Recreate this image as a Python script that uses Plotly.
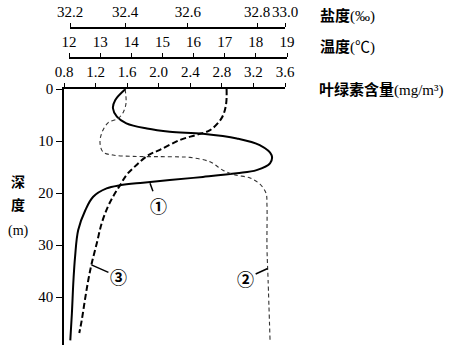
import numpy as np
import plotly.graph_objects as go

W, H = 451, 345

# curve ① chlorophyll (mg/m3) vs depth (m)
chl_depth = [0, 2.1, 3.7, 5.3, 6.6, 7.6, 8.2, 8.6, 9.5, 10.8, 12.7, 14.3, 15.6, 16.2,
             16.9, 17.5, 18.0, 18.5, 19.1, 20.7, 23.3, 27.1, 32.3, 36.7, 43.1, 48.3]
chl = [1.58, 1.45, 1.42, 1.47, 1.59, 1.85, 2.14, 2.56, 2.99, 3.28, 3.43, 3.41, 3.24, 2.99,
       2.56, 2.14, 1.80, 1.51, 1.34, 1.17, 1.07, 0.98, 0.94, 0.92, 0.90, 0.88]

# curve ③ temperature (C) vs depth
temp_depth = [0, 3.1, 5.6, 7.9, 8.8, 9.8, 11.7, 12.7, 14.6, 16.5, 18.5, 20.4, 22.6,
              25.8, 29.7, 33.5, 36.7, 40.6, 44.4, 46.9]
temp = [17.06, 17.04, 16.9, 16.53, 16.1, 15.56, 14.92, 14.55, 14.17, 13.85, 13.64, 13.44,
        13.25, 13.05, 12.89, 12.73, 12.62, 12.51, 12.41, 12.33]

# curve ② salinity (per mille) vs depth
sal_depth = [0, 2.7, 4.4, 5.6, 6.5, 8.5, 10.4, 12.1, 12.7, 12.95, 13.0, 13.05, 13.15,
             14.0, 15.6, 16.5, 17.1, 18.3, 20.0, 22.3, 30.4, 36.7, 48.3]
sal = [32.40, 32.403, 32.394, 32.376, 32.338, 32.315, 32.309, 32.32, 32.356, 32.425,
       32.511, 32.575, 32.606, 32.664, 32.701, 32.736, 32.78, 32.821, 32.864, 32.871,
       32.871, 32.879, 32.893]

chl_ticks = [0.8, 1.2, 1.6, 2.0, 2.4, 2.8, 3.2, 3.6]
temp_ticks = [12, 13, 14, 15, 16, 17, 18, 19]
sal_ticks = [32.2, 32.4, 32.6, 32.8, 33.0]
depth_ticks = [0, 10, 20, 30, 40]

# the printed salinity scale is unevenly spaced
sal_tick_pos = [32.2, 32.405, 32.639, 32.896, 33.0]
sal_plot = np.interp(sal, sal_ticks, sal_tick_pos)

serif = "Times New Roman, Liberation Serif, serif"
cjk = "Times New Roman, Liberation Serif, Noto Sans CJK SC, serif"
tickfont = dict(family=serif, size=15, color="black")

fig = go.Figure()
fig.add_trace(go.Scatter(x=chl, y=chl_depth, xaxis="x", yaxis="y", mode="lines",
                         line=dict(color="black", width=2, shape="spline")))
fig.add_trace(go.Scatter(x=temp, y=temp_depth, xaxis="x2", yaxis="y", mode="lines",
                         line=dict(color="black", width=2, dash="6px,3px", shape="spline")))
fig.add_trace(go.Scatter(x=sal_plot, y=sal_depth, xaxis="x3", yaxis="y", mode="lines",
                         line=dict(color="#333", width=1.1, dash="4px,3px", shape="spline")))

axis_common = dict(showline=True, linecolor="black", linewidth=1.5, ticks="outside",
                   ticklen=4, tickwidth=1.3, tickcolor="black", showgrid=False,
                   zeroline=False, tickfont=tickfont, side="top", tickangle=0,
                   automargin=False)

fig.update_layout(
    width=W, height=H,
    margin=dict(l=0, r=0, t=0, b=0),
    font=dict(family=serif),
    paper_bgcolor="white", plot_bgcolor="rgba(0,0,0,0)",
    showlegend=False,
    xaxis=dict(axis_common, domain=[64 / W, 285 / W], range=[0.8, 3.6], anchor="y",
               tickvals=chl_ticks, ticktext=[f"{v:.1f}" for v in chl_ticks]),
    xaxis2=dict(axis_common, domain=[69 / W, 287 / W], range=[12, 19], anchor="free",
                position=1 - 58 / H, tickvals=temp_ticks),
    xaxis3=dict(axis_common, domain=[70 / W, 285 / W], range=[32.2, 33.0], anchor="free",
                position=1 - 28 / H, tickvals=sal_tick_pos,
                ticktext=[f"{v:.1f}" for v in sal_ticks]),
    yaxis=dict(domain=[0, 1 - 89 / H], range=[49.2, 0], anchor="x", showline=True,
               linecolor="black", linewidth=1.5, ticks="outside", ticklen=6, tickwidth=1.3,
               tickcolor="black", showgrid=False, zeroline=False, tickvals=depth_ticks,
               tickfont=tickfont, automargin=False),
)

label_font = dict(family=cjk, size=15, color="black")
for text, px, py in [("<b>盐度</b>(‰)", 318, 16), ("<b>温度</b>(℃)", 318, 47),
                     ("<b>叶绿素含量</b>(mg/m³)", 317, 90)]:
    fig.add_annotation(text=text, x=px / W, y=1 - py / H, xref="paper", yref="paper",
                       xanchor="left", yanchor="middle", showarrow=False, font=label_font)

for text, py in [("<b>深</b>", 182), ("<b>度</b>", 205), ("(m)", 231)]:
    fig.add_annotation(text=text, x=18 / W, y=1 - py / H, xref="paper", yref="paper",
                       xanchor="center", yanchor="middle", showarrow=False,
                       font=dict(family=cjk, size=14, color="black"))

circ_font = dict(family="Noto Sans CJK SC", size=17, color="black", weight="bold")
arrow = dict(showarrow=True, arrowhead=0, arrowwidth=1.5, arrowcolor="black", font=circ_font)
fig.add_annotation(text="①", x=1.89, y=18.1, xref="x", yref="y", ax=8, ay=22, **arrow)
fig.add_annotation(text="③", x=12.72, y=33.8, xref="x2", yref="y", ax=27, ay=12, **arrow)
fig.add_annotation(text="②", x=float(np.interp(32.876, sal_ticks, sal_tick_pos)), y=34.5,
                   xref="x3", yref="y", ax=-22, ay=10, **arrow)

fig.write_html("out.html", config={"displayModeBar": False},
               post_script="document.body.style.margin='0';")
